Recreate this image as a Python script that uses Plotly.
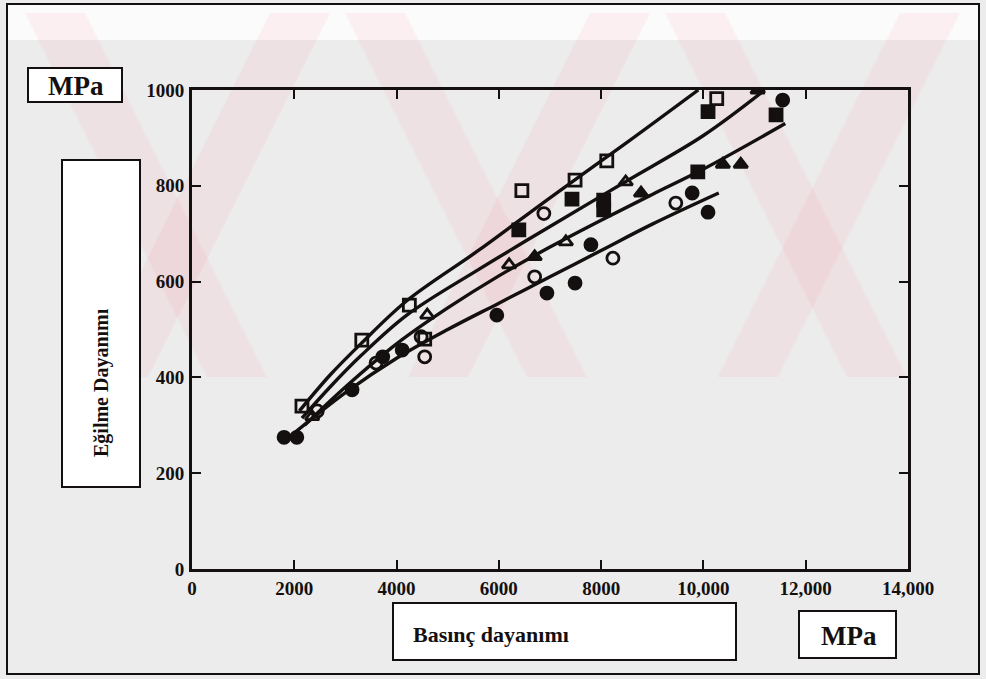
import plotly.graph_objects as go

# ---------------- data ----------------
x_ticks = [0, 2000, 4000, 6000, 8000, 10000, 12000, 14000]
x_tick_text = ["0", "2000", "4000", "6000", "8000", "10,000", "12,000", "14,000"]
y_ticks = [0, 200, 400, 600, 800, 1000]
y_tick_text = ["0", "200", "400", "600", "800", "1000"]

# fitted curves
curve_a_x = [2100, 2700, 3300, 4200, 5600, 7000, 8500, 9900]
curve_a_y = [330, 405, 470, 560, 665, 775, 890, 1000]
curve_b_x = [2150, 2700, 3300, 4200, 5600, 7000, 8500, 10000, 11200]
curve_b_y = [315, 380, 445, 530, 625, 715, 810, 905, 1000]
curve_c_x = [2200, 3000, 4000, 5000, 6000, 7000, 8000, 9000, 10000, 11600]
curve_c_y = [300, 380, 470, 545, 612, 672, 728, 782, 835, 930]
curve_d_x = [1900, 3000, 4000, 5000, 6000, 7000, 8000, 9000, 10300]
curve_d_y = [275, 368, 440, 500, 555, 610, 665, 720, 785]

# measured points
open_sq_x = [2150, 3320, 4250, 4550, 6450, 7490, 8110, 10260]
open_sq_y = [340, 478, 551, 480, 790, 812, 852, 982]
filled_sq_x = [6390, 7430, 8050, 8050, 9890, 10090, 11420]
filled_sq_y = [708, 772, 770, 750, 829, 955, 948]
open_tri_x = [2350, 4600, 6200, 7310, 8480]
open_tri_y = [318, 530, 635, 683, 808]
filled_tri_x = [6700, 8780, 10380, 10730, 11060]
filled_tri_y = [652, 785, 845, 845, 1000]
open_circ_x = [2450, 3600, 4480, 4550, 6880, 6700, 8230, 9460]
open_circ_y = [330, 430, 485, 443, 742, 610, 649, 764]
filled_circ_x = [1800, 2050, 3130, 3730, 4110, 5960, 6940, 7490, 7800, 9780, 10090, 11550]
filled_circ_y = [275, 275, 374, 443, 457, 530, 576, 597, 677, 785, 745, 979]

# ---------------- figure ----------------
W, H = 986, 679
L, R, T, B = 192, 908, 90, 569   # plot area in pixels

def px(xp):
    return (xp - L) / (R - L)

def py(yp):
    return (B - yp) / (B - T)

ink = "#141010"
fig = go.Figure()

for cx, cy in [(curve_a_x, curve_a_y), (curve_b_x, curve_b_y),
               (curve_c_x, curve_c_y), (curve_d_x, curve_d_y)]:
    fig.add_trace(go.Scatter(x=cx, y=cy, mode="lines",
                             line=dict(color=ink, width=3.4, shape="spline"),
                             showlegend=False, hoverinfo="skip"))

for mx, my, sym in [(open_sq_x, open_sq_y, "square-open"),
                    (filled_sq_x, filled_sq_y, "square"),
                    (open_tri_x, open_tri_y, "triangle-up-open"),
                    (filled_tri_x, filled_tri_y, "triangle-up"),
                    (open_circ_x, open_circ_y, "circle-open"),
                    (filled_circ_x, filled_circ_y, "circle")]:
    fig.add_trace(go.Scatter(x=mx, y=my, mode="markers",
                             marker=dict(symbol=sym, size=12, color=ink,
                                         line=dict(color=ink, width=2.8)),
                             showlegend=False))

shapes = []
# lighter strip along the top of the scan
shapes.append(dict(type="rect", xref="paper", yref="paper", layer="below",
                   x0=px(8), x1=px(978), y0=py(40), y1=py(5),
                   fillcolor="#fbfbfb", line=dict(width=0)))
# faint watermark bands (pale pink diagonal stripes in the upper part)
pink = "rgba(255,120,140,0.09)"
top_y, bot_y = 13, 377
dxs = 0.5 * (bot_y - top_y)
for x0 in [25, 345, 665]:
    shapes.append(dict(type="path", xref="paper", yref="paper", layer="below",
                       path=f"M {px(x0)},{py(top_y)} L {px(x0+60)},{py(top_y)} "
                            f"L {px(x0+60+dxs)},{py(bot_y)} L {px(x0+dxs)},{py(bot_y)} Z",
                       fillcolor=pink, line=dict(width=0)))
for x0 in [330, 650, 960]:
    shapes.append(dict(type="path", xref="paper", yref="paper", layer="below",
                       path=f"M {px(x0)},{py(top_y)} L {px(x0-60)},{py(top_y)} "
                            f"L {px(x0-60-dxs)},{py(bot_y)} L {px(x0-dxs)},{py(bot_y)} Z",
                       fillcolor=pink, line=dict(width=0)))

def box(x0, y0, x1, y1, w=2, fill="white"):
    shapes.append(dict(type="rect", xref="paper", yref="paper",
                       x0=px(x0), x1=px(x1), y0=py(y1), y1=py(y0),
                       line=dict(color=ink, width=w), fillcolor=fill, layer="below"))

box(7, 4, 979, 674, 2, "rgba(0,0,0,0)")
box(28, 68, 122, 102)
box(62, 160, 140, 487)
box(393, 603, 736, 660)
box(799, 611, 896, 658)

serif = "Liberation Serif"
ann = [
    dict(x=px(76), y=py(86), text="<b>MPa</b>", font=dict(family=serif, size=27, color=ink)),
    dict(x=px(101), y=py(383), text="<b>Eğilme Dayanımı</b>", textangle=-90,
         font=dict(family=serif, size=20, color=ink)),
    dict(x=px(411), y=py(634), text="<b>Basınç dayanımı</b>", xanchor="left",
         font=dict(family=serif, size=22, color=ink)),
    dict(x=px(849), y=py(636), text="<b>MPa</b>", font=dict(family=serif, size=27, color=ink)),
]
for a in ann:
    a.update(xref="paper", yref="paper", showarrow=False)
    a.setdefault("xanchor", "center")
    a.setdefault("yanchor", "middle")

axis_common = dict(showline=True, linewidth=3, linecolor=ink, mirror="ticks",
                   ticks="inside", ticklen=9, tickwidth=2, tickcolor=ink,
                   showgrid=False, zeroline=False,
                   tickfont=dict(family=serif, size=19, color=ink, weight="bold"))

fig.update_layout(
    width=W, height=H,
    margin=dict(l=L, r=W - R, t=T, b=H - B),
    paper_bgcolor="#ececec",
    plot_bgcolor="rgba(0,0,0,0)",
    shapes=shapes,
    annotations=ann,
    xaxis=dict(range=[0, 14000], tickvals=x_ticks, ticktext=x_tick_text,
               ticklabelstandoff=0, **axis_common),
    yaxis=dict(range=[0, 1000], tickvals=y_ticks, ticktext=y_tick_text,
               ticklabelstandoff=1, **axis_common),
)

fig.write_html("out.html")
